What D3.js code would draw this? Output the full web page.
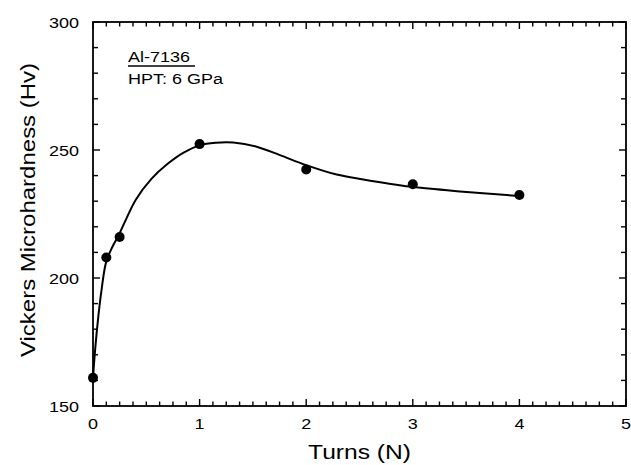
<!DOCTYPE html>
<html>
<head>
<meta charset="utf-8">
<script src="https://cdn.jsdelivr.net/npm/d3@7"></script>
<style>
  body { margin: 0; background: #fff; }
  text { font-family: "Liberation Sans", Arial, sans-serif; fill: #000; }
</style>
</head>
<body>
<div id="wrapper"></div>
<script>
// measured points
const turns = [0, 0.125, 0.25, 1, 2, 3, 4]
const hardness = [161, 208, 216, 252.3, 242.4, 236.6, 232.4]

// fitted curve
const curveTurns = [0, 0.02, 0.05, 0.08, 0.122, 0.18, 0.237, 0.3, 0.4, 0.55, 0.7, 0.85, 1.0, 1.15, 1.316, 1.535, 1.754, 2.0, 2.286, 2.536, 2.974, 3.474, 4.0]
const curveHv = [161, 172, 185, 195.3, 206, 212, 216.4, 222, 230.5, 238.8, 244.6, 249, 251.8, 252.8, 252.9, 251.3, 248, 244.1, 240.4, 238.5, 235.7, 233.7, 232]

const xTicks = [0, 1, 2, 3, 4, 5]
const yTicks = [150, 200, 250, 300]
const xMinor = d3.range(0, 5.0001, 0.125)
const yMinor = d3.range(150, 300.001, 10)

const dimensions = {
    width: 631,
    height: 465,
    margin: { top: 22, right: 5, bottom: 59, left: 93 },
}
dimensions.boundedWidth = dimensions.width - dimensions.margin.left - dimensions.margin.right
dimensions.boundedHeight = dimensions.height - dimensions.margin.top - dimensions.margin.bottom

// the original's lettering is wider than Arial, stretch it a bit
const stretch = 1.2

const wrapper = d3.select('#wrapper')
    .append('svg')
    .attr('width', dimensions.width)
    .attr('height', dimensions.height)

const bounds = wrapper.append('g')
    .attr('transform', `translate(${dimensions.margin.left},${dimensions.margin.top})`)

const xScale = d3.scaleLinear().domain([0, 5]).range([0, dimensions.boundedWidth])
const yScale = d3.scaleLinear().domain([150, 300]).range([dimensions.boundedHeight, 0])

const H = dimensions.boundedHeight
const W = dimensions.boundedWidth

// frame
bounds.append('rect')
    .attr('width', W)
    .attr('height', H)
    .attr('fill', 'none')
    .attr('stroke', '#000')
    .attr('stroke-width', 1.8)

// tick labels
bounds.append('g').selectAll('text').data(xTicks).join('text')
    .attr('transform', d => `translate(${xScale(d)},${H + 23}) scale(${stretch},1)`)
    .attr('text-anchor', 'middle')
    .style('font-size', '15px')
    .text(d => d)
bounds.append('g').selectAll('text').data(yTicks).join('text')
    .attr('transform', d => `translate(-14,${yScale(d) + 5.5}) scale(${stretch},1)`)
    .attr('text-anchor', 'end')
    .style('font-size', '15px')
    .text(d => d)

// axis titles
wrapper.append('text')
    .attr('transform', `translate(${dimensions.margin.left + W / 2},459) scale(${stretch + 0.03},1)`)
    .attr('text-anchor', 'middle')
    .style('font-size', '20px')
    .text('Turns (N)')
wrapper.append('text')
    .attr('transform', `translate(35,210) rotate(-90) scale(${stretch},1)`)
    .attr('text-anchor', 'middle')
    .style('font-size', '20px')
    .text('Vickers Microhardness (Hv)')

// curve
const line = d3.line()
    .x(d => xScale(d[0]))
    .y(d => yScale(d[1]))
    .curve(d3.curveCatmullRom)
bounds.append('path')
    .datum(curveTurns.map((t, i) => [t, curveHv[i]]))
    .attr('d', line)
    .attr('fill', 'none')
    .attr('stroke', '#000')
    .attr('stroke-width', 2)

// points
bounds.append('g').selectAll('circle').data(turns).join('circle')
    .attr('cx', d => xScale(d))
    .attr('cy', (d, i) => yScale(hardness[i]))
    .attr('r', 5)
    .attr('fill', '#000')

// legend
const legend = bounds.append('g').attr('transform', 'translate(35, 0)')
legend.append('text')
    .attr('transform', `translate(0,40) scale(${stretch},1)`)
    .style('font-size', '15px')
    .text('Al-7136')
legend.append('line')
    .attr('x1', 0).attr('x2', 67)
    .attr('y1', 44).attr('y2', 44)
    .attr('stroke', '#000').attr('stroke-width', 1.3)
legend.append('text')
    .attr('transform', `translate(0,62) scale(${stretch},1)`)
    .style('font-size', '15px')
    .text('HPT: 6 GPa')

// inward ticks on all four sides, drawn last as small filled bars
const isMajorX = v => Math.abs(v - Math.round(v)) < 1e-6
const isMajorY = v => v % 50 === 0
const ticks = wrapper.append('g')
    .attr('transform', `translate(${dimensions.margin.left},${dimensions.margin.top})`)
    .attr('fill', '#000')
const xLen = v => (isMajorX(v) ? 7 : 4.5)
const yLen = v => (isMajorY(v) ? 7 : 5)
ticks.selectAll('.tb').data(xMinor).join('rect').attr('class', 'tb')
    .attr('x', d => xScale(d) - 0.7).attr('width', 1.4)
    .attr('y', d => H - xLen(d)).attr('height', xLen)
ticks.selectAll('.tt').data(xMinor).join('rect').attr('class', 'tt')
    .attr('x', d => xScale(d) - 0.7).attr('width', 1.4)
    .attr('y', 0).attr('height', xLen)
ticks.selectAll('.tl').data(yMinor).join('rect').attr('class', 'tl')
    .attr('y', d => yScale(d) - 0.7).attr('height', 1.4)
    .attr('x', 0).attr('width', yLen)
ticks.selectAll('.tr').data(yMinor).join('rect').attr('class', 'tr')
    .attr('y', d => yScale(d) - 0.7).attr('height', 1.4)
    .attr('x', d => W - yLen(d)).attr('width', yLen)
</script>
</body>
</html>
